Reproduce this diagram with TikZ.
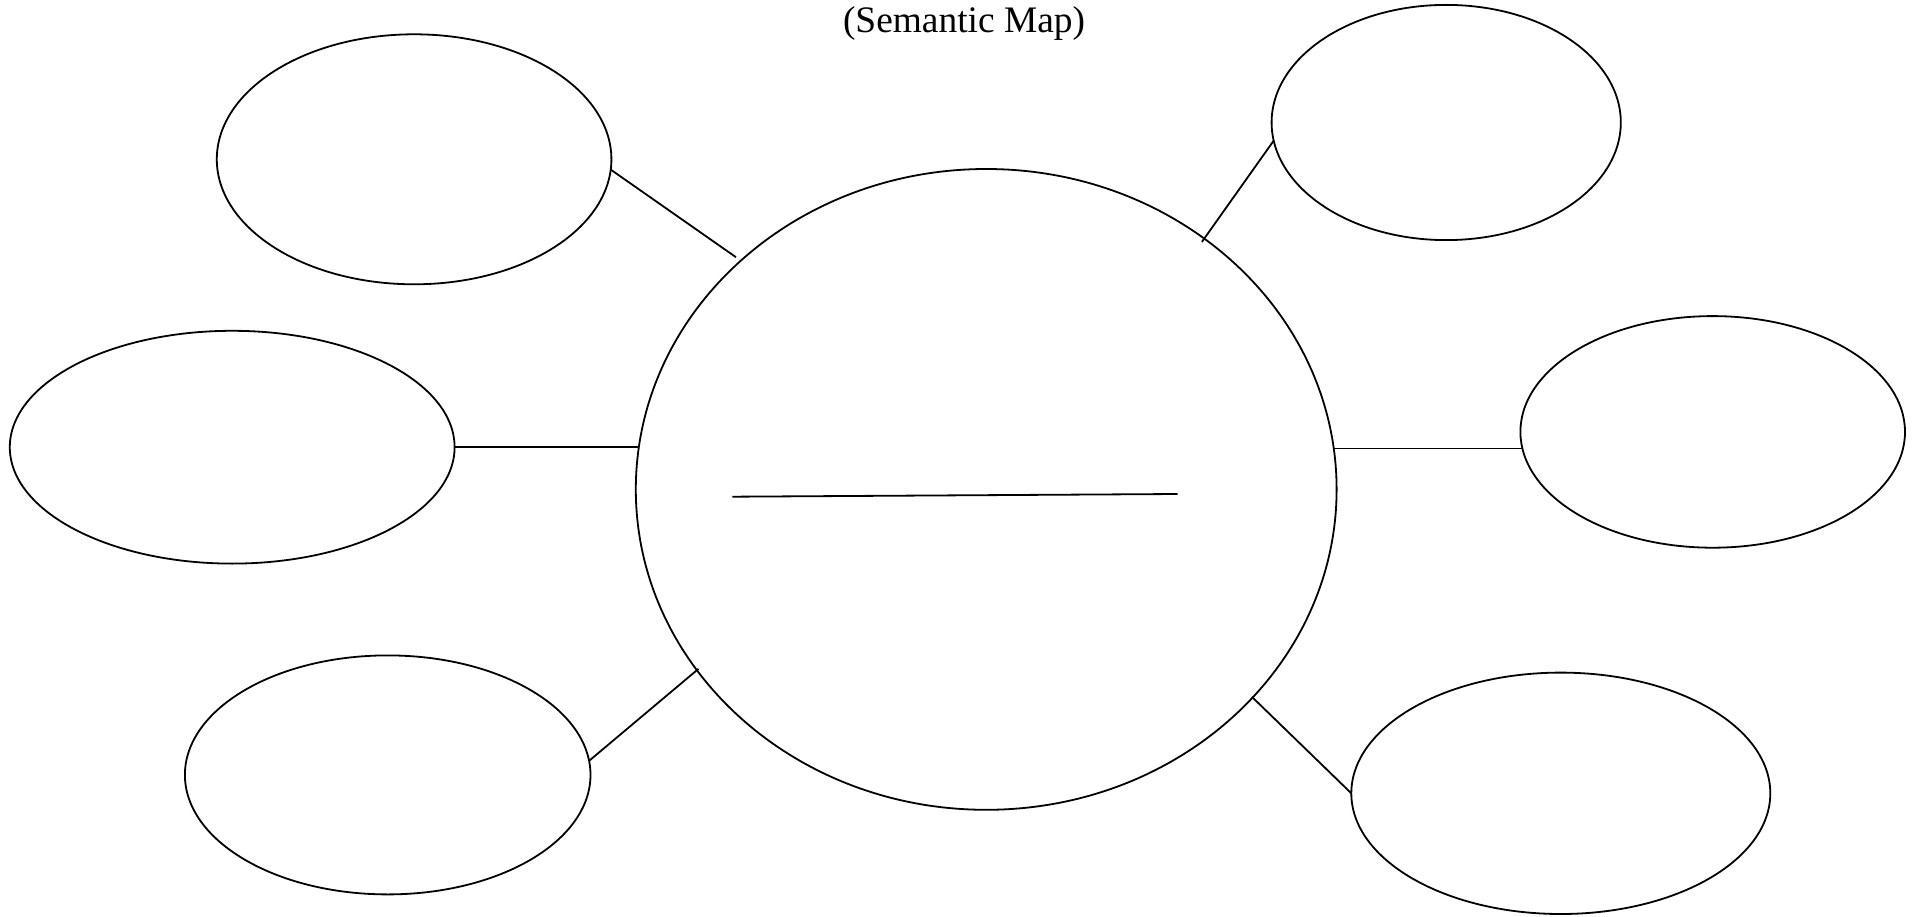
\documentclass[tikz,border=0pt]{standalone}
\usepackage{fontspec}
\setmainfont{Liberation Serif}
\usetikzlibrary{shapes.geometric}
\begin{document}
\begin{tikzpicture}[x=1pt,y=-1pt,
  ell/.style={ellipse,draw=black,line width=1.8pt,inner sep=0pt,outer sep=0pt},
  link/.style={draw=black,line width=1.8pt},
  titletext/.style={font=\fontsize{37.4}{45}\selectfont,inner sep=0pt,anchor=base}]
\useasboundingbox (0,0) rectangle (1921,917);
\fill[white] (0,0) rectangle (1921,917);
\node[titletext] (title) at (964,33) {(Semantic Map)};
% central ellipse
\node[ell,minimum width=700.8pt,minimum height=640.8pt] (c) at (986.2,489.4) {};
% satellites
\node[ell,minimum width=394.6pt,minimum height=250pt] (tl) at (414.1,159.3) {};
\node[ell,minimum width=444.8pt,minimum height=232.8pt] (l) at (232.2,447.2) {};
\node[ell,minimum width=405.6pt,minimum height=239pt] (bl) at (387.7,774.9) {};
\node[ell,minimum width=349.2pt,minimum height=235.2pt] (tr) at (1446.2,122.5) {};
\node[ell,minimum width=384.6pt,minimum height=231.6pt] (r) at (1712.7,431.9) {};
\node[ell,minimum width=419pt,minimum height=241.4pt] (br) at (1560.8,793.3) {};
% connectors
\draw[link,shorten >=6pt] (tl.-3) -- (c.137.7);
\draw[link] (l.-0.7) -- (l.-0.7 -| c.173.5);
\draw[link,shorten >=-2pt] (bl.4) -- (c.212.4);
\draw[link,shorten >=-4pt] (tr.186) -- (c.49.6);
\draw[link] (c.6.6 |- r.185.1) -- (r.185.1);
\draw[link,shorten <=-1pt] (c.-38.4) -- (br.180);
% line inside the central ellipse
\coordinate (ua) at (732.3,496.7);
\coordinate (ub) at (1177.7,494);
\draw[link] (ua) -- (ub);
\end{tikzpicture}
\end{document}
